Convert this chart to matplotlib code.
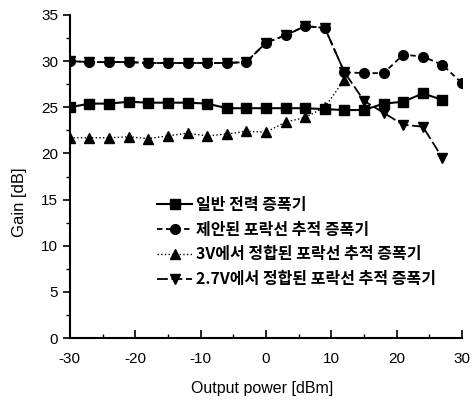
import matplotlib
matplotlib.use("Agg")
import matplotlib.pyplot as plt
from matplotlib.ticker import MultipleLocator

x_sq = [-30, -27, -24, -21, -18, -15, -12, -9, -6, -3, 0, 3, 6, 9, 12, 15, 18, 21, 24, 27]
g_sq = [25.0, 25.4, 25.4, 25.6, 25.5, 25.5, 25.5, 25.4, 24.9, 24.9, 24.9, 24.9, 24.9, 24.8, 24.7, 24.7, 25.4, 25.6, 26.5, 25.8]

x_ci = [-30, -27, -24, -21, -18, -15, -12, -9, -6, -3, 0, 3, 6, 9, 12, 15, 18, 21, 24, 27, 30]
g_ci = [30.0, 29.9, 29.9, 29.9, 29.8, 29.8, 29.8, 29.8, 29.8, 29.9, 32.0, 32.8, 33.8, 33.6, 28.8, 28.7, 28.7, 30.7, 30.5, 29.6, 27.6]

x_tr = [-30, -27, -24, -21, -18, -15, -12, -9, -6, -3, 0, 3, 6, 9, 12]
g_tr = [21.7, 21.7, 21.7, 21.8, 21.6, 21.9, 22.2, 21.9, 22.1, 22.4, 22.3, 23.4, 23.9, 25.0, 28.0]

x_itr = [-30, -27, -24, -21, -18, -15, -12, -9, -6, -3, 0, 3, 6, 9, 12, 15, 18, 21, 24, 27]
g_itr = [30.0, 29.9, 29.9, 29.9, 29.8, 29.8, 29.8, 29.8, 29.8, 29.9, 32.0, 32.8, 33.8, 33.6, 28.8, 25.7, 24.4, 23.1, 22.9, 19.5]

labels = ["일반 전력 증폭기",
          "제안된 포락선 추적 증폭기",
          "3V에서 정합된 포락선 추적 증폭기",
          "2.7V에서 정합된 포락선 추적 증폭기"]

x_ticks = [-30, -20, -10, 0, 10, 20, 30]
y_ticks = [0, 5, 10, 15, 20, 25, 30, 35]

plt.rcParams['font.family'] = ['Liberation Sans', 'DejaVu Sans']
plt.rcParams['axes.unicode_minus'] = False

fig = plt.figure(figsize=(4.72, 4.0), dpi=100)
ax = fig.add_axes([0.148, 0.155, 0.831, 0.8075])

l4, = ax.plot(x_itr, g_itr, color='black', lw=1.3, dashes=(6, 2), marker='v', ms=7.5, zorder=2)
l2, = ax.plot(x_ci, g_ci, color='black', lw=1.3, dashes=(3, 2), marker='o', ms=7, zorder=3)
l3, = ax.plot(x_tr, g_tr, color='black', lw=1.0, ls=':', marker='^', ms=7, zorder=2.5)
l1, = ax.plot(x_sq, g_sq, color='black', lw=1.5, ls='-', marker='s', ms=7, zorder=4)

leg = ax.legend([l1, l2, l3, l4], labels, loc='upper left', bbox_to_anchor=(0.222, 0.437),
                frameon=False, handlelength=2.2, handletextpad=0.25, labelspacing=0.55,
                borderaxespad=0, borderpad=0,
                prop={'family': ['Noto Sans CJK KR', 'DejaVu Sans'], 'size': 11.5, 'weight': 'bold'})

ax.set_xlim(-30, 30)
ax.set_ylim(0, 35)
ax.set_xticks(x_ticks)
ax.set_yticks(y_ticks)
ax.xaxis.set_minor_locator(MultipleLocator(5))
ax.yaxis.set_minor_locator(MultipleLocator(2.5))
ax.tick_params(axis='x', which='both', direction='in', labelsize=11, pad=10)
ax.tick_params(axis='x', which='major', length=6, width=1.2)
ax.tick_params(axis='x', which='minor', length=3, width=1.0)
ax.tick_params(axis='y', which='both', direction='out', labelsize=11)
ax.tick_params(axis='y', which='major', length=5, width=1.2)
ax.tick_params(axis='y', which='minor', length=3, width=1.0)
ax.spines['top'].set_visible(False)
ax.spines['right'].set_visible(False)
ax.spines['left'].set_linewidth(1.5)
ax.spines['bottom'].set_linewidth(1.5)

ax.set_xlabel('Output power [dBm]', fontsize=11.5)
ax.set_ylabel('Gain [dB]', fontsize=12)
ax.xaxis.set_label_coords(0.49, -0.132)
ax.yaxis.set_label_coords(-0.11, 0.42)

fig.savefig('out.png', dpi=100)
